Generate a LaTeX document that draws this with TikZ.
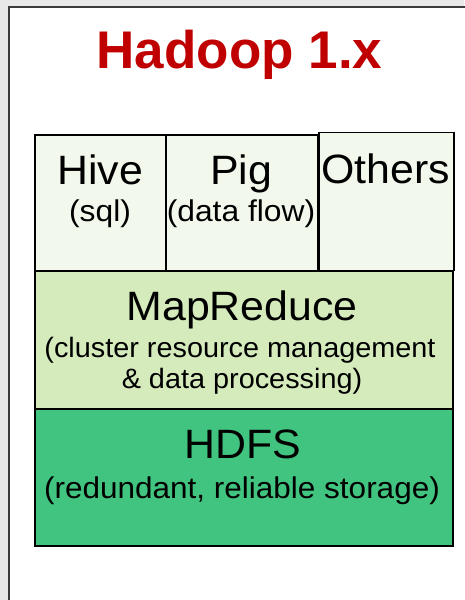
\documentclass[tikz,border=0pt]{standalone}
\usepackage{fontspec}
\setmainfont{Liberation Sans}
\newfontfamily\bigsans[FakeStretch=1.045]{Liberation Sans}
\newfontfamily\appsans[FakeStretch=1.06]{Liberation Sans}
\newfontfamily\mrsans[FakeStretch=1.03]{Liberation Sans}
\newfontfamily\hdsans[FakeStretch=1.05]{Liberation Sans}
\definecolor{pagebg}{HTML}{E8E8E8}
\definecolor{framegray}{HTML}{3A3A3A}
\definecolor{titlered}{HTML}{C00000}
\definecolor{appfill}{HTML}{F2F8EC}
\definecolor{mrfill}{HTML}{D5EBBC}
\definecolor{hdfsfill}{HTML}{41C47F}
\begin{document}
\begin{tikzpicture}[x=1pt,y=-1pt,
  layer/.style={draw=black, line width=1.5pt, inner sep=0pt, anchor=north west},
  lbl/.style={anchor=base, inner sep=0pt},
  big/.style={lbl, font=\bigsans\fontsize{41}{48}\selectfont},
  appnote/.style={lbl, font=\appsans\fontsize{30}{34}\selectfont},
  mrnote/.style={lbl, font=\mrsans\fontsize{28}{34}\selectfont},
  hdnote/.style={lbl, font=\hdsans\fontsize{30}{34}\selectfont},
  title/.style={lbl, font=\bfseries\fontsize{53}{60}\selectfont, text=titlered}]
% page background and the white slide panel
\fill[pagebg] (0,0) rectangle (464,600);
\useasboundingbox (0,0) rectangle (464,600);
\draw[fill=white, draw=framegray, line width=2pt] (9,7) rectangle (480,620);

% title
\node[title] (ttl) at (239.5,68) {Hadoop 1.x};

% stack layers
\node[layer, fill=mrfill, minimum width=418pt, minimum height=138pt] (mr) at (34,270) {};
\node[layer, fill=hdfsfill, minimum width=418pt, minimum height=137pt] (hdfs) at (34,408) {};
\node[layer, fill=appfill, minimum width=131pt, minimum height=136pt] (hive) at (34,134) {};
\node[layer, fill=appfill, minimum width=152pt, minimum height=136pt] (pig) at (165,134) {};
\node[layer, fill=appfill, minimum width=135pt, minimum height=138pt] (oth) at (318,131.5) {};

% layer labels
\node[big] (hivet) at (100,184) {Hive};
\node[appnote] (hives) at (100,221) {(sql)};
\node[big] (pigt) at (241,184) {Pig};
\node[appnote] (pigs) at (241,221) {(data flow)};
\node[big] (otht) at (385.5,183) {Others};
\node[big] (mrt) at (242,320) {MapReduce};
\node[mrnote] (mrs1) at (240,357) {(cluster resource management};
\node[mrnote] (mrs2) at (242,388) {\& data processing)};
\node[big] (hdfst) at (243,458) {HDFS};
\node[hdnote] (hdfss) at (242,498) {(redundant, reliable storage)};
\end{tikzpicture}
\end{document}
